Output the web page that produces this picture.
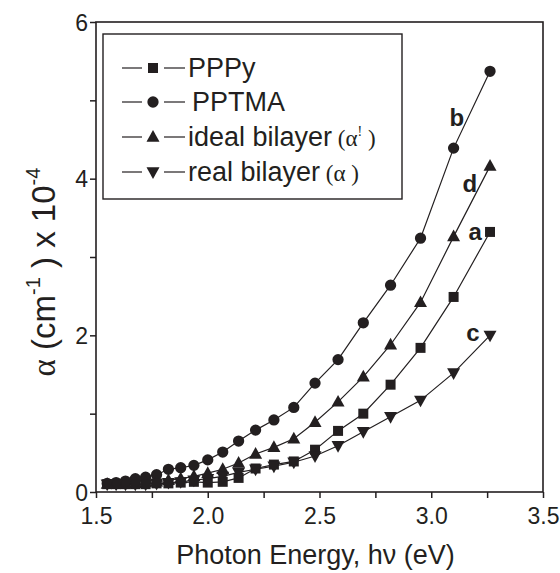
<!DOCTYPE html>
<html>
<head>
<meta charset="utf-8">
<script src="https://cdn.jsdelivr.net/npm/d3@7"></script>
<style>
	body { margin: 0; background: #fff; }
	text { font-family: "Liberation Sans", Arial, sans-serif; fill: #231f20; }
</style>
</head>
<body>
<div id="chart"></div>
<script>
// photon energy (eV) for every measured point
const energy = [3.263, 3.1, 2.952, 2.818, 2.696, 2.583, 2.48, 2.385, 2.296, 2.214, 2.138,
	2.067, 2.0, 1.938, 1.879, 1.824, 1.771, 1.722, 1.676, 1.632, 1.59, 1.55];
// absorption coefficient x 10^-4
const pppy = [3.32, 2.49, 1.84, 1.37, 1.0, 0.78, 0.54, 0.39, 0.35, 0.3, 0.18,
	0.13, 0.12, 0.13, 0.12, 0.11, 0.11, 0.1, 0.1, 0.1, 0.1, 0.1];
const pptma = [5.37, 4.39, 3.24, 2.64, 2.16, 1.69, 1.39, 1.08, 0.92, 0.79, 0.65,
	0.51, 0.41, 0.34, 0.31, 0.29, 0.22, 0.19, 0.17, 0.14, 0.12, 0.11];
const idealBilayer = [4.16, 3.26, 2.42, 1.88, 1.47, 1.15, 0.89, 0.68, 0.57, 0.485, 0.37,
	0.29, 0.24, 0.2, 0.17, 0.15, 0.13, 0.12, 0.11, 0.1, 0.1, 0.1];
const realBilayer = [2.0, 1.52, 1.17, 0.96, 0.77, 0.59, 0.46, 0.38, 0.33, 0.29, 0.25,
	0.2, 0.17, 0.15, 0.13, 0.12, 0.11, 0.1, 0.1, 0.1, 0.1, 0.1];

const xTicks = [1.5, 2.0, 2.5, 3.0, 3.5];
const yTicks = [0, 2, 4, 6];

const series = [
	{ name: "PPPy", values: pppy, symbol: d3.symbolSquare, size: 100 },
	{ name: "PPTMA", values: pptma, symbol: d3.symbolCircle, size: 100 },
	{ name: "ideal bilayer", values: idealBilayer, symbol: "up", size: 0 },
	{ name: "real bilayer", values: realBilayer, symbol: "down", size: 0 },
];

// curve letters, placed in data units next to the last points
const curveLabels = ["b", "d", "a", "c"];
const curveLabelX = [3.115, 3.173, 3.196, 3.187];
const curveLabelY = [4.67, 3.83, 3.22, 1.93];

const width = 560;
const height = 573;
const margin = { top: 22, right: 17, bottom: 81, left: 96 };

const svg = d3
	.select("#chart")
	.append("svg")
	.attr("width", width)
	.attr("height", height);

const xScale = d3
	.scaleLinear()
	.domain([1.5, 3.5])
	.range([margin.left, width - margin.right]);

const yScale = d3
	.scaleLinear()
	.domain([0, 6])
	.range([height - margin.bottom, margin.top]);

// triangle path centred on (0,0)
function triangle(dir, s) {
	const h = s * 0.9;
	if (dir === "up") return `M0,${-h * 0.6}L${s / 2},${h * 0.4}L${-s / 2},${h * 0.4}Z`;
	return `M0,${h * 0.6}L${s / 2},${-h * 0.4}L${-s / 2},${-h * 0.4}Z`;
}
function markerPath(d) {
	if (d.symbol === "up" || d.symbol === "down") return triangle(d.symbol, 13);
	return d3.symbol().type(d.symbol).size(d.size)();
}

// axes
const xAxis = d3
	.axisBottom(xScale)
	.tickValues(d3.range(1.5, 3.51, 0.25))
	.tickSize(6)
	.tickFormat((d) => (xTicks.includes(d) ? d3.format(".1f")(d) : ""));
const gx = svg.append("g")
	.attr("transform", `translate(0, ${height - margin.bottom})`)
	.call(xAxis);

const yAxis = d3
	.axisLeft(yScale)
	.tickValues(d3.range(0, 7, 1))
	.tickSize(6)
	.tickFormat((d) => (yTicks.includes(d) ? d : ""));
const gy = svg.append("g")
	.attr("transform", `translate(${margin.left}, 0)`)
	.call(yAxis);

[gx, gy].forEach((g) => {
	g.select(".domain").remove();
	g.selectAll(".tick line").attr("stroke", "#231f20").attr("stroke-width", 1.5);
	g.selectAll(".tick text")
		.attr("fill", "#231f20")
		.style("font-size", "23px")
		.style("font-family", "Liberation Sans, Arial, sans-serif");
});
gx.selectAll(".tick text").attr("dy", "1.0em");
gy.selectAll(".tick text").attr("x", -8).attr("dy", "0.36em");

// frame
svg.append("rect")
	.attr("x", margin.left)
	.attr("y", margin.top)
	.attr("width", width - margin.left - margin.right)
	.attr("height", height - margin.top - margin.bottom)
	.attr("fill", "none")
	.attr("stroke", "#231f20")
	.attr("stroke-width", 1.6);

// lines and markers
const line = d3
	.line()
	.x((d) => xScale(d[0]))
	.y((d) => yScale(d[1]));

series.forEach((s) => {
	const pts = energy.map((e, i) => [e, s.values[i]]);
	svg.append("path")
		.datum(pts)
		.attr("d", line)
		.attr("fill", "none")
		.attr("stroke", "#231f20")
		.attr("stroke-width", 1.2);
});
series.forEach((s) => {
	const pts = energy.map((e, i) => [e, s.values[i]]);
	svg.append("g")
		.selectAll("path")
		.data(pts)
		.enter()
		.append("path")
		.attr("transform", (d) => `translate(${xScale(d[0])}, ${yScale(d[1])})`)
		.attr("d", markerPath(s))
		.attr("fill", "#231f20");
});

curveLabels.forEach((label, i) => {
	svg.append("text")
		.attr("x", xScale(curveLabelX[i]))
		.attr("y", yScale(curveLabelY[i]))
		.attr("text-anchor", "middle")
		.style("font-size", "24px")
		.style("font-weight", "bold")
		.text(label);
});

// legend
svg.append("rect")
	.attr("x", 103)
	.attr("y", 34)
	.attr("width", 299)
	.attr("height", 165)
	.attr("fill", "#fff")
	.attr("stroke", "#231f20")
	.attr("stroke-width", 1.4);

const legendRows = [68, 102, 137, 172];
series.forEach((s, i) => {
	const y = legendRows[i];
	const g = svg.append("g");
	g.append("line").attr("x1", 122).attr("x2", 142).attr("y1", y).attr("y2", y)
		.attr("stroke", "#231f20").attr("stroke-width", 1.2);
	g.append("line").attr("x1", 164).attr("x2", 185).attr("y1", y).attr("y2", y)
		.attr("stroke", "#231f20").attr("stroke-width", 1.2);
	g.append("path")
		.attr("transform", `translate(153, ${y})`)
		.attr("d", markerPath(s))
		.attr("fill", "#231f20");
	const t = g.append("text")
		.attr("x", i === 1 ? 192 : 188)
		.attr("y", y + 9)
		.style("font-size", "27px");
	t.append("tspan").text(s.name);
	if (i === 2) {
		t.append("tspan").style("font-family", "Liberation Serif, serif").style("font-size", "23px").text(" (α");
		t.append("tspan").style("font-family", "Liberation Serif, serif").style("font-size", "14px").attr("dy", -10).text("!");
		t.append("tspan").style("font-family", "Liberation Serif, serif").style("font-size", "23px").attr("dy", 10).text(" )");
	} else if (i === 3) {
		t.append("tspan").style("font-family", "Liberation Serif, serif").style("font-size", "23px").text(" (α )");
	}
});

// axis titles
svg.append("text")
	.attr("x", (margin.left + width - margin.right) / 2 - 4)
	.attr("y", 564)
	.attr("text-anchor", "middle")
	.style("font-size", "27px")
	.text("Photon Energy, hν (eV)");

const yt = svg.append("text")
	.attr("transform", "translate(55, 272) rotate(-90)")
	.attr("text-anchor", "middle")
	.style("font-size", "33px");
yt.append("tspan").style("font-family", "Liberation Serif, serif").text("α");
yt.append("tspan").text(" (cm");
yt.append("tspan").style("font-size", "20px").attr("dy", -15).text("-1");
yt.append("tspan").attr("dy", 15).text(" ) x 10");
yt.append("tspan").style("font-size", "20px").attr("dy", -15).text("-4");
</script>
</body>
</html>
